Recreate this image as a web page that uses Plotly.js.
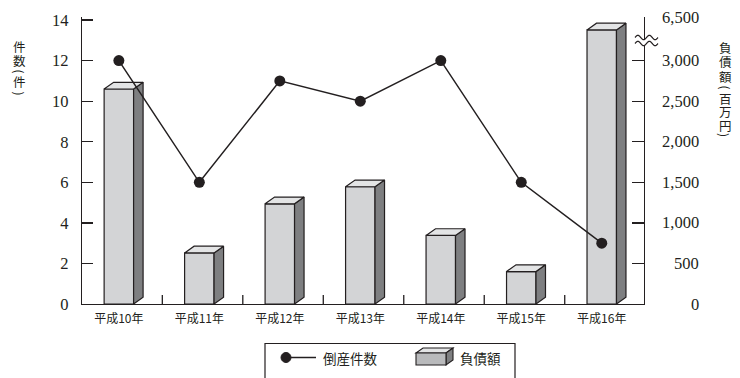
<!DOCTYPE html>
<html><head><meta charset="utf-8">
<script src="https://cdn.plot.ly/plotly-3.0.1.min.js"></script>
<style>html,body{margin:0;padding:0;background:#fff}</style>
</head><body><div id="chart" style="width:740px;height:378px"></div>
<script>
// ---- data ----
const years = ['平成10年','平成11年','平成12年','平成13年','平成14年','平成15年','平成16年'];
const bankruptcies = [12, 6, 11, 10, 12, 6, 3];            // 倒産件数 (件)
const debt = [2650, 630, 1235, 1445, 845, 400, 5500];      // 負債額 (百万円)
const countTicks = [0, 2, 4, 6, 8, 10, 12, 14];
const debtTicks = [0, 500, 1000, 1500, 2000, 2500, 3000, 6500];
const debtTickText = ['0', '500', '1,000', '1,500', '2,000', '2,500', '3,000', '6,500'];
const leftTitle = ['件', '数', '(', '件', ')'];
const rightTitle = ['負', '債', '額', '(', '百', '万', '円', ')'];
const legendNames = ['倒産件数', '負債額'];

// ---- geometry / style ----
const W = 740, H = 378, M = {l: 82, r: 96, t: 17, b: 74};
const PW = W - M.l - M.r, PH = H - M.t - M.b;
const COUNT_MAX = 14.15, DEBT_MAX = COUNT_MAX * 250;
const BREAK_LOW = 3000, BREAK_HIGH = 6500, BREAK_SPAN = 530;
function debtScale(v) { return v <= BREAK_LOW ? v : BREAK_LOW + (v - BREAK_LOW) * BREAK_SPAN / (BREAK_HIGH - BREAK_LOW); }
const XR = [-0.458, 6.525];
const idx = years.map((_, i) => i);
const BW = 0.366, DX = 0.118, DY = 6.7 / PH * DEBT_MAX;
const INK = '#231f20';
const serif = 'Liberation Serif';
const jp = 'Noto Sans CJK JP';
const px2x = p => (p - M.l) / PW;
const px2y = p => (H - M.b - p) / PH;

const dv = debt.map(debtScale);
const sideX = [], sideY = [], topX = [], topY = [];
idx.forEach((x, i) => {
  const r = x + BW / 2, l = x - BW / 2, v = dv[i];
  sideX.push(r, r + DX, r + DX, r, r, null);
  sideY.push(0, DY, v + DY, v, 0, null);
  topX.push(l, l + DX, r + DX, r, l, null);
  topY.push(v, v + DY, v + DY, v, v, null);
});

const traces = [
  {type: 'bar', x: idx, y: dv, width: BW, yaxis: 'y', hoverinfo: 'skip',
   marker: {color: '#d3d4d6', line: {color: INK, width: 1.2}}, showlegend: false},
  {type: 'scatter', mode: 'lines', x: sideX, y: sideY, yaxis: 'y', fill: 'toself',
   fillcolor: '#7e7f81', line: {color: INK, width: 1.2}, hoverinfo: 'skip', showlegend: false},
  {type: 'scatter', mode: 'lines', x: topX, y: topY, yaxis: 'y', fill: 'toself',
   fillcolor: '#e3e4e5', line: {color: INK, width: 1.2}, hoverinfo: 'skip', showlegend: false},
  {type: 'scatter', mode: 'lines+markers', x: idx, y: bankruptcies, yaxis: 'y2',
   line: {color: INK, width: 1.5}, marker: {color: INK, size: 11}, showlegend: false}
];

const annotations = [];
debtTicks.forEach((t, i) => annotations.push({
  xref: 'paper', yref: 'y', x: px2x(701), y: debtScale(t), xanchor: 'right', yanchor: 'middle',
  text: debtTickText[i], showarrow: false, font: {family: serif, size: 16.5, color: INK}
}));
function vchar(c, xpx, ypx) {
  const br = (c === '(' || c === ')');
  return {xref: 'paper', yref: 'paper', x: px2x(xpx), y: px2y(ypx), xanchor: 'center', yanchor: 'middle',
    text: c, textangle: br ? 90 : 0, showarrow: false, borderpad: 0,
    font: {family: jp, size: br ? 12 : 12.5, color: INK}};
}
const lY = [46.5, 60.5, 71, 81.5, 93];
leftTitle.forEach((c, i) => annotations.push(vchar(c, 19.5, lY[i])));
const rY = [47, 61.5, 76, 87.5, 98, 111.5, 125, 135];
rightTitle.forEach((c, i) => annotations.push(vchar(c, 725, rY[i])));
annotations.push({xref: 'paper', yref: 'paper', x: px2x(321), y: px2y(357.5), xanchor: 'left', yanchor: 'middle',
  text: legendNames[0], showarrow: false, font: {family: jp, size: 13.5, color: INK}});
annotations.push({xref: 'paper', yref: 'paper', x: px2x(458), y: px2y(357.5), xanchor: 'left', yanchor: 'middle',
  text: legendNames[1], showarrow: false, font: {family: jp, size: 13.5, color: INK}});

const shapes = [];
for (let k = 0; k < years.length - 1; k++) {
  shapes.push({type: 'line', xref: 'x', yref: 'paper', x0: k + 0.54, x1: k + 0.54, y0: 0, y1: 9 / PH,
    line: {color: INK, width: 1.3}});
}
function wave(x0, x1, yc, amp, n) {
  const pts = [];
  for (let s = 0; s <= n; s++) {
    const px = x0 + (x1 - x0) * s / n;
    pts.push([px, yc - amp * Math.sin(2 * Math.PI * 2 * s / n)]);
  }
  return pts;
}
const wTop = wave(635, 658, 37.5, 2.2, 40), wBot = wave(635, 658, 43.5, 2.2, 40);
const poly = wTop.concat(wBot.slice().reverse());
shapes.push({type: 'path', xref: 'paper', yref: 'paper', layer: 'above',
  path: 'M' + poly.map(p => px2x(p[0]) + ',' + px2y(p[1])).join(' L') + ' Z',
  fillcolor: '#ffffff', line: {width: 0}});
[wTop, wBot].forEach(w => shapes.push({type: 'path', xref: 'paper', yref: 'paper', layer: 'above',
  path: 'M' + w.map(p => px2x(p[0]) + ',' + px2y(p[1])).join(' L'), line: {color: INK, width: 1.2}}));
shapes.push({type: 'rect', xref: 'paper', yref: 'paper', x0: px2x(265), x1: px2x(515), y0: px2y(395), y1: px2y(343.5),
  line: {color: INK, width: 1.2}, fillcolor: 'rgba(0,0,0,0)'});
shapes.push({type: 'line', xref: 'paper', yref: 'paper', x0: px2x(286), x1: px2x(316), y0: px2y(357.5), y1: px2y(357.5),
  line: {color: INK, width: 1.5}});
shapes.push({type: 'circle', xref: 'paper', yref: 'paper', x0: px2x(281), x1: px2x(291), y0: px2y(362.5), y1: px2y(352.5),
  fillcolor: INK, line: {color: INK, width: 1}});
const bx0 = 416, bx1 = 446, by0 = 353, by1 = 365, bd = 7, bh = 5;
const pp = pts => 'M' + pts.map(p => px2x(p[0]) + ',' + px2y(p[1])).join(' L') + ' Z';
shapes.push({type: 'path', xref: 'paper', yref: 'paper', path: pp([[bx0, by0], [bx0 + bd, by0 - bh], [bx1 + bd, by0 - bh], [bx1, by0]]),
  fillcolor: '#e3e4e5', line: {color: INK, width: 1.1}});
shapes.push({type: 'path', xref: 'paper', yref: 'paper', path: pp([[bx1, by0], [bx1 + bd, by0 - bh], [bx1 + bd, by1 - bh], [bx1, by1]]),
  fillcolor: '#7e7f81', line: {color: INK, width: 1.1}});
shapes.push({type: 'path', xref: 'paper', yref: 'paper', path: pp([[bx0, by0], [bx1, by0], [bx1, by1], [bx0, by1]]),
  fillcolor: '#b9babc', line: {color: INK, width: 1.1}});

const layout = {
  width: W, height: H, margin: M, paper_bgcolor: '#fff', plot_bgcolor: '#fff', showlegend: false,
  xaxis: {range: XR, tickvals: idx, ticktext: years, ticks: '', showgrid: false, zeroline: false,
    showline: true, linecolor: INK, linewidth: 1.3, ticklabelstandoff: 3,
    tickfont: {family: jp, size: 12, color: INK}},
  yaxis: {side: 'right', range: [0, DEBT_MAX], tickvals: debtTicks.map(debtScale), showticklabels: false,
    ticks: 'inside', ticklen: 12, tickcolor: INK, tickwidth: 1.3, showgrid: false, zeroline: false,
    showline: true, linecolor: INK, linewidth: 1.3},
  yaxis2: {side: 'left', overlaying: 'y', range: [0, COUNT_MAX], tickvals: countTicks, ticks: 'inside',
    ticklen: 11, tickcolor: INK, tickwidth: 1.3, showgrid: false, zeroline: false, showline: true,
    linecolor: INK, linewidth: 1.3, ticklabelstandoff: 9, tickfont: {family: serif, size: 16.5, color: INK}},
  annotations: annotations, shapes: shapes
};
Plotly.newPlot('chart', traces, layout, {staticPlot: true, displayModeBar: false});
</script></body></html>
